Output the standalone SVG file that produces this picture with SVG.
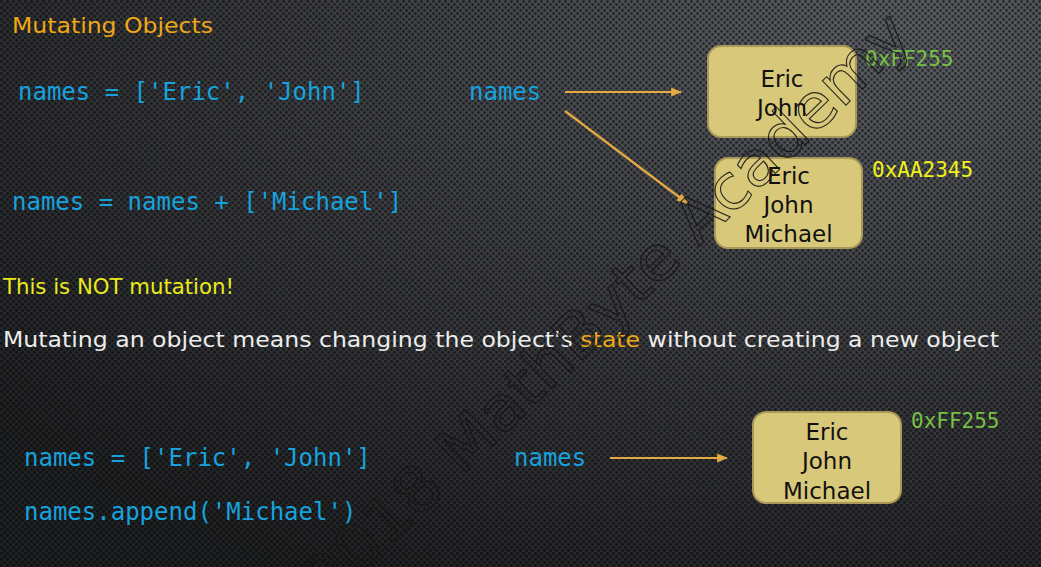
<svg xmlns="http://www.w3.org/2000/svg" width="1041" height="567" viewBox="0 0 1041 567">
  <defs>
    <!-- dark backdrop, lighter toward the top right -->
    <radialGradient id="bgGrad" cx="0.85" cy="0.05" r="1.1">
      <stop offset="0" stop-color="#595c61"/>
      <stop offset="0.45" stop-color="#3d3f43"/>
      <stop offset="1" stop-color="#1f2022"/>
    </radialGradient>
    <!-- perforated-metal dot texture -->
    <pattern id="holes" width="6" height="6" patternUnits="userSpaceOnUse">
      <circle cx="1.5" cy="1.5" r="1.4" fill="#000" fill-opacity="0.5"/>
      <circle cx="4.5" cy="4.5" r="1.4" fill="#000" fill-opacity="0.5"/>
    </pattern>
    <marker id="arrowHead" viewBox="0 0 10 10" refX="9" refY="5" markerWidth="5" markerHeight="5" orient="auto" markerUnits="strokeWidth">
      <path d="M0,1 L10,5 L0,9 Z" fill="#e3aa42"/>
    </marker>
    <style>
      .heading { font-family: "DejaVu Sans", "Liberation Sans", sans-serif; font-size: 21px; }
      .orange { fill: #eea816; }
      .yellow { fill: #eaea1c; }
      .body { fill: #ececec; }
      .code { font-family: "DejaVu Sans Mono", "Liberation Mono", monospace; font-size: 24px; fill: #17a2de; }
      .addr { font-family: "DejaVu Sans Mono", "Liberation Mono", monospace; font-size: 21px; }
      .addrGreen { fill: #78c045; }
      .addrYellow { fill: #f2f21a; }
      .box { fill: #d8c87a; stroke: #a99858; stroke-width: 2; }
      .boxText { font-family: "DejaVu Sans", "Liberation Sans", sans-serif; font-size: 23px; fill: #111; text-anchor: middle; }
      .link { stroke: #e3aa42; stroke-width: 2.2; fill: none; marker-end: url(#arrowHead); }
      .mark { font-family: "DejaVu Sans", "Liberation Sans", sans-serif; font-size: 62px; fill: none; stroke: #151515; stroke-opacity: 0.9; stroke-width: 1.1; }
    </style>
  </defs>

  <!-- backdrop -->
  <rect x="0" y="0" width="1041" height="567" fill="url(#bgGrad)"/>
  <rect x="0" y="0" width="1041" height="567" fill="url(#holes)"/>

  <!-- headings and prose -->
  <g id="title">
    <text class="heading orange" x="12" y="33" textLength="201" lengthAdjust="spacingAndGlyphs">Mutating Objects</text>
  </g>
  <g id="not-mutation">
    <text class="heading yellow" x="3" y="294" textLength="231" lengthAdjust="spacingAndGlyphs">This is NOT mutation!</text>
  </g>
  <g id="definition">
    <text class="heading body" x="3" y="347" textLength="996" lengthAdjust="spacingAndGlyphs">Mutating an object means changing the object's <tspan class="orange">state</tspan> without creating a new object</text>
  </g>

  <!-- code lines -->
  <g id="code-assign-1">
    <text class="code" x="18" y="100">names = ['Eric', 'John']</text>
  </g>
  <g id="code-concat">
    <text class="code" x="12" y="210">names = names + ['Michael']</text>
  </g>
  <g id="code-assign-2">
    <text class="code" x="24" y="466">names = ['Eric', 'John']</text>
  </g>
  <g id="code-append">
    <text class="code" x="24" y="520">names.append('Michael')</text>
  </g>

  <!-- variable labels -->
  <g id="var-names-top">
    <text class="code" x="469" y="100">names</text>
  </g>
  <g id="var-names-bottom">
    <text class="code" x="514" y="466">names</text>
  </g>

  <!-- connectors -->
  <g id="connectors">
    <line class="link" x1="565" y1="92" x2="681" y2="92"/>
    <line class="link" x1="565" y1="111" x2="687" y2="203"/>
    <line class="link" x1="610" y1="458" x2="727" y2="458"/>
  </g>

  <!-- list objects in memory -->
  <g id="obj-ff255-top">
    <rect class="box" x="708" y="46" width="148" height="91" rx="13"/>
    <text class="boxText" x="782" y="87">Eric</text>
    <text class="boxText" x="782" y="116">John</text>
    <text class="addr addrGreen" x="865" y="66">0xFF255</text>
  </g>
  <g id="obj-aa2345">
    <rect class="box" x="715" y="158" width="147" height="90" rx="13"/>
    <text class="boxText" x="788.5" y="184">Eric</text>
    <text class="boxText" x="788.5" y="213">John</text>
    <text class="boxText" x="788.5" y="242">Michael</text>
    <text class="addr addrYellow" x="872" y="177">0xAA2345</text>
  </g>
  <g id="obj-ff255-bottom">
    <rect class="box" x="753" y="412" width="148" height="91" rx="13"/>
    <text class="boxText" x="827" y="440">Eric</text>
    <text class="boxText" x="827" y="469">John</text>
    <text class="boxText" x="827" y="499">Michael</text>
    <text class="addr addrGreen" x="911" y="428">0xFF255</text>
  </g>

  <!-- outlined copyright mark across the slide -->
  <g id="copyright">
    <text class="mark" x="0" y="0" text-anchor="middle" dominant-baseline="central" textLength="900" lengthAdjust="spacingAndGlyphs" transform="translate(576,336) rotate(-44)">© 2018 MathByte Academy</text>
  </g>
</svg>
